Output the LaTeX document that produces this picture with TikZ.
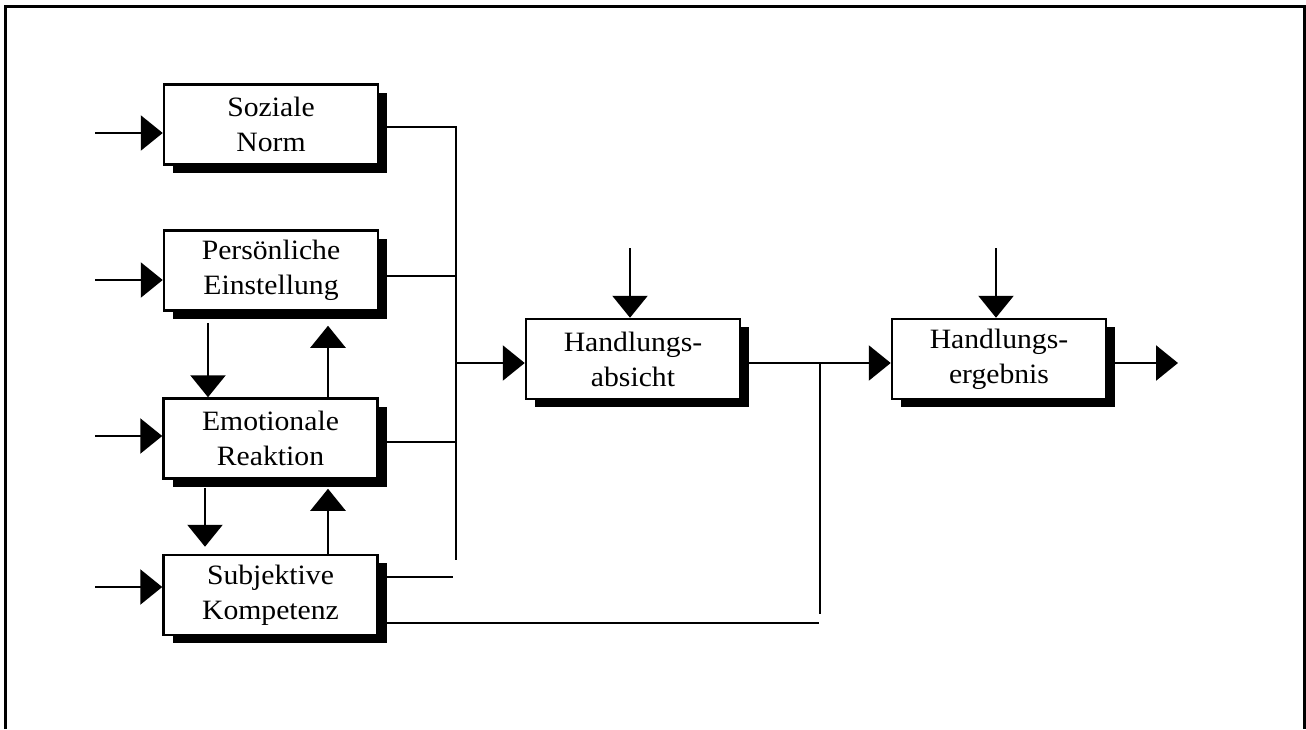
\documentclass[tikz,border=0pt]{standalone}
\usepackage{fontspec}
\setmainfont[FakeStretch=1.06]{Liberation Serif}
\usetikzlibrary{arrows.meta,shadows,calc}
\begin{document}
\begin{tikzpicture}[x=1pt,y=-1pt,
  box/.style={draw,line width=2.5pt,fill=white,minimum width=214pt,minimum height=80pt,
    inner sep=0pt,align=center,font=\fontsize{28}{35}\selectfont,
    drop shadow={opacity=1,fill=black,shadow xshift=9pt,shadow yshift=-8pt}},
  conn/.style={line width=2.4pt},
  arr/.style={line width=2.4pt,-{Triangle[width=35pt,length=22pt]}}]
\useasboundingbox (0,0) rectangle (1306,729);
% open frame
\draw[line width=3pt] (5,729) -- (5,6) -- (1304,6) -- (1304,729);

% boxes
\node[box] (SN) at (271,124.5) {Soziale\\Norm};
\node[box] (PE) at (271,270.5) {Persönliche\\Einstellung};
\node[box] (ER) at (270.5,438.5) {Emotionale\\Reaktion};
\node[box] (SK) at (270.5,595) {Subjektive\\Kompetenz};
\node[box] (HA) at (633,359) {Handlungs-\\absicht};
\node[box] (HE) at (999,359) {Handlungs-\\ergebnis};

% external inputs
\coordinate (inSN) at (95,133);
\coordinate (inPE) at (95,280);
\coordinate (inER) at (95,436);
\coordinate (inSK) at (95,587);
\draw[arr] (inSN) -- (inSN -| SN.west);
\draw[arr] (inPE) -- (inPE -| PE.west);
\draw[arr] (inER) -- (inER -| ER.west);
\draw[arr] (inSK) -- (inSK -| SK.west);
\coordinate (inHA) at (630,248);
\coordinate (inHE) at (996,248);
\draw[arr] (inHA) -- (inHA |- HA.north);
\draw[arr] (inHE) -- (inHE |- HE.north);

% collecting bus
\coordinate (busT) at (456,127);
\coordinate (busB) at (456,560);
\coordinate (busM) at (456,363);
\draw[conn] (SN.east |- busT) -- (busT) -- (busB);
\draw[conn] (PE.east |- 0,276) -- (456,276);
\draw[conn] (ER.east |- 0,442) -- (456,442);
\draw[conn] (SK.east |- 0,577) -- (453,577);
\draw[arr] (busM) -- (busM -| HA.west);

% intention to result
\coordinate (jn) at (820,363);
\coordinate (jnB) at (820,614);
\draw[arr] (HA.east |- jn) -- (jn -| HE.west);
\draw[conn] (jn) -- (jnB);
\draw[conn] (SK.east |- 0,623) -- (819,623);
\coordinate (outHE) at (1178,363);
\draw[arr] (HE.east |- outHE) -- (outHE);

% mutual influences
\draw[arr] ($(PE.south)+(-63,11)$) -- ($(ER.north)+(-62.5,0)$);
\draw[arr] ($(ER.north)+(57.5,0)$) -- ($(PE.south)+(57,14)$);
\draw[arr] ($(ER.south)+(-65.5,8)$) -- ($(SK.north)+(-65.5,-7)$);
\draw[arr] ($(SK.north)+(57.5,0)$) -- ($(ER.south)+(57.5,9)$);
\end{tikzpicture}
\end{document}
